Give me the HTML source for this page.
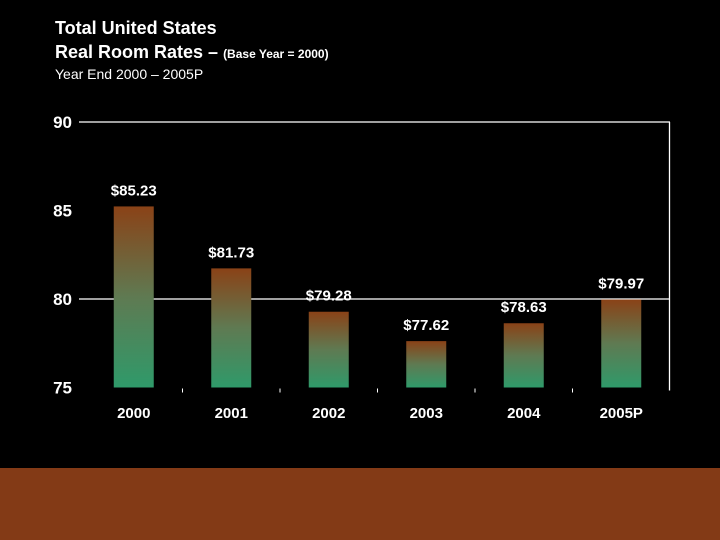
<!DOCTYPE html>
<html><head><meta charset="utf-8"><style>
body{margin:0;background:#000;width:720px;height:540px;overflow:hidden;font-family:"Liberation Sans",Arial,sans-serif;}
.t{position:absolute;color:#fff;font-weight:bold;}
</style></head><body>
<div class="t" style="left:55px;top:18px;font-size:18px">Total United States</div>
<div class="t" style="left:55px;top:42px;font-size:18px">Real Room Rates – <span style="font-size:12px">(Base Year = 2000)</span></div>
<div class="t" style="left:55px;top:66px;font-size:14px;font-weight:normal">Year End 2000 – 2005P</div>
<svg id="c" width="720" height="540" style="position:absolute;left:0;top:0">
<defs><linearGradient id="g" x1="0" y1="0" x2="0" y2="1"><stop offset="0" stop-color="#8a4217"/><stop offset="0.5" stop-color="#5f7a52"/><stop offset="1" stop-color="#2f9a6a"/></linearGradient></defs>
<rect x="0" y="468" width="720" height="72" fill="#833a16"/>
</svg>
<script>
const categories=["2000","2001","2002","2003","2004","2005P"];
const values=[85.23,81.73,79.28,77.62,78.63,79.97];
const labels=["$85.23","$81.73","$79.28","$77.62","$78.63","$79.97"];
const ticks=[75,80,85,90];
const gridTicks=[80,90];
const svg=document.getElementById('c');const NS="http://www.w3.org/2000/svg";
const y=v=>387.5-(v-75)*17.7;
const x0=85,step=97.5;
function mk(t,a){const e=document.createElementNS(NS,t);for(const k in a)e.setAttribute(k,a[k]);svg.appendChild(e);return e;}
gridTicks.forEach(t=>{
 const l=mk('line',{x1:79,x2:670,y1:y(t),y2:y(t),stroke:'#fff','stroke-width':1.3});
 
 
});
ticks.forEach(t=>{
 const tx=mk('text',{x:72,y:y(t)+6,fill:'#fff','font-size':17,'font-weight':'bold','text-anchor':'end'});tx.textContent=t;
 
 
});
const rb=mk('line',{x1:669.5,x2:669.5,y1:y(90),y2:y(75)+3,stroke:'#fff','stroke-width':1.3});


for(let i=1;i<6;i++){const tk=mk('line',{x1:x0+i*step,x2:x0+i*step,y1:y(75)+1,y2:y(75)+5,stroke:'#fff','stroke-width':1});
 
 }
categories.forEach((c,i)=>{
 const cx=x0+step*(i+0.5);
 const b=mk('rect',{x:cx-20,y:y(values[i]),width:40,height:y(75)-y(values[i]),fill:'url(#g)'});
 
 
 const v=mk('text',{x:cx,y:y(values[i])-11,fill:'#fff','font-size':15,'font-weight':'bold','text-anchor':'middle'});v.textContent=labels[i];
 
 
 const l=mk('text',{x:cx,y:418,fill:'#fff','font-size':15,'font-weight':'bold','text-anchor':'middle'});l.textContent=c;
 
 
});
</script>
</body></html>
